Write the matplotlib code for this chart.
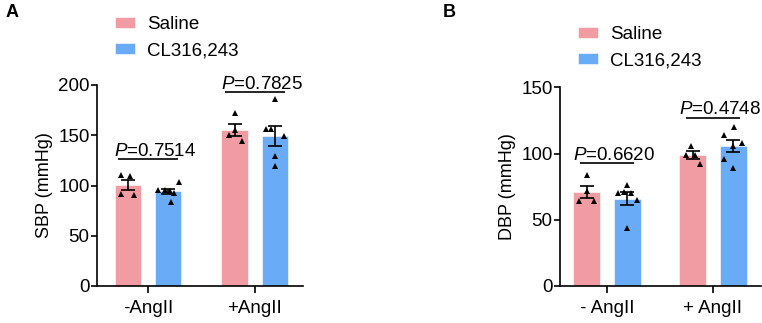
import matplotlib.pyplot as plt
from matplotlib.patches import Patch
import numpy as np

plt.rcParams['font.family'] = ['Liberation Sans', 'DejaVu Sans']
plt.rcParams['mathtext.fontset'] = 'custom'
plt.rcParams['mathtext.it'] = 'Liberation Sans:italic'
plt.rcParams['mathtext.rm'] = 'Liberation Sans'

# data
group_names = ['Saline', 'CL316,243']
group_colors = ['#F19CA2', '#6AABF7']

sbp_labels = ['-AngII', '+AngII']
sbp_saline = [[110, 109, 92, 91], [172, 150, 155, 144]]
sbp_cl = [[96, 96, 95, 93, 103, 84], [186, 156, 156, 149, 129, 119]]
sbp_p = ['0.7514', '0.7825']
sbp_ticks = [0, 50, 100, 150, 200]

dbp_labels = ['- AngII', '+ AngII']
dbp_saline = [[84, 72, 64, 64], [106, 99, 99, 92]]
dbp_cl = [[70, 71, 76, 70, 65, 44], [120, 114, 108, 106, 96, 89]]
dbp_p = ['0.6620', '0.4748']
dbp_ticks = [0, 50, 100, 150]

# layout / style constants
SBP_JITTER = [[[-0.065, 0.02, -0.065, 0.06], [0, -0.055, 0, 0.065]],
              [[-0.09, -0.03, 0.02, 0.055, 0.1, 0.03], [0, -0.085, -0.04, 0.085, 0, 0]]]
DBP_JITTER = [[[0, 0, -0.07, 0.07], [-0.01, -0.06, 0.02, 0.07]],
              [[-0.09, -0.03, 0, 0.03, 0.09, 0], [0.01, -0.085, 0.085, 0, -0.085, 0]]]
SBP_BRACKET = [126, 193]
DBP_BRACKET = [92.5, 127]

LW = 1.2
FS = 13.5


def draw_panel(ax, saline, cl, labels, ptexts, ticks, ylabel, jitter,
               bracket_y, offset, width, bracket_pad):
    cats = np.arange(len(labels))
    for g, (data, color) in enumerate(zip([saline, cl], group_colors)):
        xs = cats + (2 * g - 1) * offset
        means = [np.mean(d) for d in data]
        sems = [np.std(d, ddof=1) / np.sqrt(len(d)) for d in data]
        ax.bar(xs, means, width=width, color=color, edgecolor='white',
               linewidth=0.4, zorder=1)
        for i, d in enumerate(data):
            ax.plot(xs[i] + np.array(jitter[g][i]), d, '^', color='black',
                    markersize=5, markeredgewidth=0, zorder=3)
        ax.errorbar(xs, means, yerr=sems, fmt='none', ecolor='black',
                    elinewidth=LW, capsize=5, capthick=LW, zorder=4)

    for i, p in enumerate(ptexts):
        x1 = cats[i] - offset - bracket_pad
        x2 = cats[i] + offset + bracket_pad
        ax.plot([x1, x2], [bracket_y[i]] * 2, color='black', lw=LW,
                clip_on=False, solid_capstyle='butt')
        ax.annotate('$\\mathit{P}$=' + p, xy=((x1 + x2) / 2, bracket_y[i]),
                    xytext=(5, 2.5), textcoords='offset points',
                    ha='center', va='baseline', fontsize=FS,
                    annotation_clip=False)

    ax.set_ylim(ticks[0], ticks[-1])
    ax.set_yticks(ticks)
    ax.set_xticks(cats)
    ax.set_xticklabels(labels, fontsize=FS)
    ax.tick_params(axis='y', labelsize=FS, width=LW, length=4.3, pad=1)
    ax.tick_params(axis='x', width=LW, length=5, pad=5)
    ax.set_ylabel(ylabel, fontsize=13, labelpad=4)
    for side in ['top', 'right']:
        ax.spines[side].set_visible(False)
    for side in ['left', 'bottom']:
        ax.spines[side].set_linewidth(LW)


fig = plt.figure(figsize=(7.62, 3.23), dpi=100)

ax_a = fig.add_axes([97 / 762, 37 / 323, 206 / 762, 201 / 323])
draw_panel(ax_a, sbp_saline, sbp_cl, sbp_labels, sbp_p, sbp_ticks,
           'SBP (mmHg)', SBP_JITTER, SBP_BRACKET, 0.187, 0.252, 0.09)
ax_a.set_xlim(-0.477, 1.449)

ax_b = fig.add_axes([560 / 762, 37 / 323, 201 / 762, 198.7 / 323])
draw_panel(ax_b, dbp_saline, dbp_cl, dbp_labels, dbp_p, dbp_ticks,
           'DBP (mmHg)', DBP_JITTER, DBP_BRACKET, 0.193, 0.255, 0.066)
ax_b.set_xlim(-0.443, 1.453)

handles = [Patch(facecolor=c, edgecolor='white', linewidth=0.4) for c in group_colors]
leg_kw = dict(frameon=False, fontsize=FS, handlelength=1.07, handleheight=0.53,
              handletextpad=0.64, labelspacing=0.5, borderpad=0, borderaxespad=0,
              loc='upper left')
fig.legend(handles, group_names, bbox_to_anchor=(115 / 762, 1 - 16 / 323), **leg_kw)
fig.legend(handles, group_names, bbox_to_anchor=(578 / 762, 1 - 26 / 323), **leg_kw)

fig.text(6 / 762, 1 - 4 / 323, 'A', fontsize=13, fontweight='bold', va='top')
fig.text(443 / 762, 1 - 4 / 323, 'B', fontsize=13, fontweight='bold', va='top')

fig.savefig('out.png', dpi=100)
